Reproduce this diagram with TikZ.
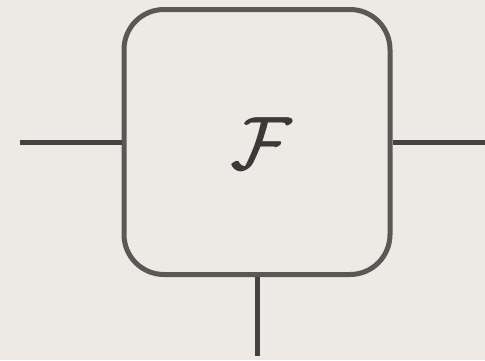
\documentclass[tikz,border=0pt]{standalone}
\definecolor{bgc}{HTML}{EDEAE5}
\definecolor{boxc}{HTML}{5A5855}
\definecolor{linec}{HTML}{434240}
\definecolor{txtc}{HTML}{3A3A3A}
\tikzset{
  fbox/.style={draw=boxc, line width=5pt, rounded corners=40pt, minimum width=266pt, minimum height=265pt, inner sep=0pt},
  wire/.style={draw=linec, line width=5pt},
  flabel/.style={text=txtc, scale=7.4, inner sep=0pt}
}
\begin{document}
\begin{tikzpicture}[x=1pt,y=-1pt]
\fill[bgc] (0,0) rectangle (485,360);
\useasboundingbox (0,0) rectangle (485,360);
\node[fbox] (F) at (257,142) {};
\node[flabel] (lab) at (261,143) {$\mathcal{F}$};
\node[flabel] (labb) at (262.2,143) {$\mathcal{F}$};
\node[flabel] (labc) at (261.6,143.8) {$\mathcal{F}$};
\coordinate (L) at (20,142);
\coordinate (R) at (485,142);
\coordinate (B) at (257,356);
\draw[wire] (L) -- (F.west);
\draw[wire] (F.east) -- (R);
\draw[wire] (F.south) -- (B);
\end{tikzpicture}
\end{document}
